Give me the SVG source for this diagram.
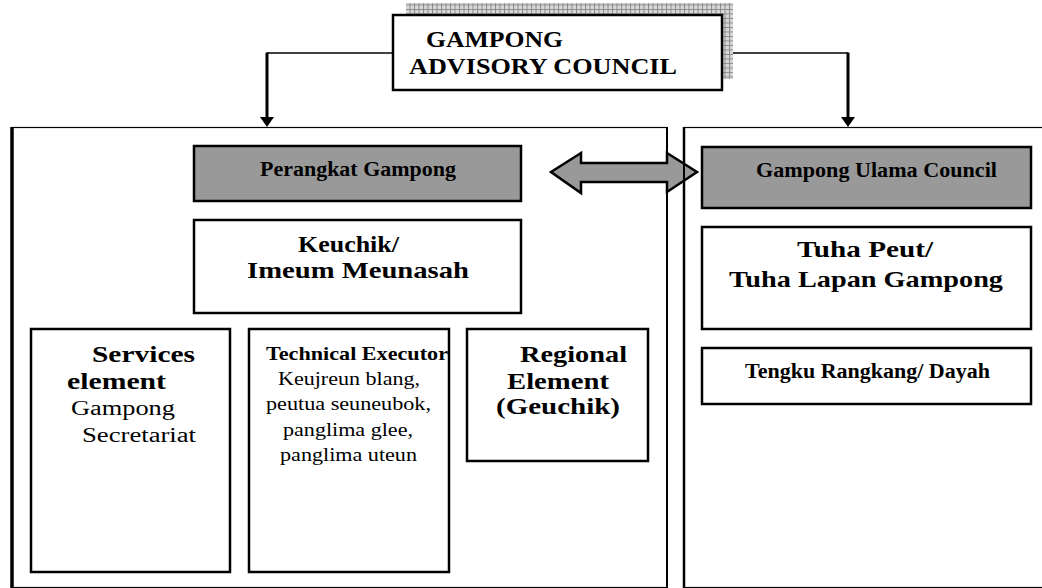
<svg xmlns="http://www.w3.org/2000/svg" width="1042" height="588" viewBox="0 0 1042 588">
  <defs>
    <!-- hatched drop shadow behind the council box -->
    <pattern id="grid" width="4.5" height="4.5" patternUnits="userSpaceOnUse">
      <rect width="4.5" height="4.5" fill="#d8d8d8"/>
      <path d="M0 0.5H4.5M0.5 0V4.5" stroke="#8a8a8a" stroke-width="1" fill="none"/>
    </pattern>
    <marker id="tri" markerWidth="12" markerHeight="10" refX="6" refY="9" orient="auto-start-reverse" markerUnits="userSpaceOnUse" viewBox="0 0 12 10">
      <path d="M0 0L12 0L6 10Z" fill="#000"/>
    </marker>
    <style>
      .box { fill: #fff; stroke: #000; stroke-width: 2.5; }
      .grey { fill: #999; stroke: #000; stroke-width: 2.5; }
      .frame { fill: none; stroke: #000; }
      .t { font-family: "Liberation Serif", "Times New Roman", serif; fill: #000; }
      .b { font-weight: bold; }
      .wire { fill: none; stroke: #000; stroke-width: 1.5; }
      .drop { fill: none; stroke: #000; stroke-width: 3; }
    </style>
  </defs>

  <rect width="1042" height="588" fill="#fff"/>

  <!-- outer panels -->
  <g id="panel-left">
    <rect class="frame" x="12" y="127.5" width="655" height="460" stroke-width="1.2"/>
    <line x1="12" y1="127" x2="12" y2="588" stroke="#000" stroke-width="3.5"/>
    <line x1="667" y1="127" x2="667" y2="588" stroke="#000" stroke-width="2"/>
  </g>
  <g id="panel-right">
    <rect class="frame" x="684" y="127.5" width="380" height="460" stroke-width="1.2"/>
    <line x1="684" y1="127" x2="684" y2="588" stroke="#000" stroke-width="2.5"/>
  </g>

  <!-- connectors -->
  <g id="connectors">
    <polyline class="wire" points="393,53 267,53"/>
    <line class="drop" x1="267" y1="52.5" x2="267" y2="118"/>
    <path d="M260 117L274 117L267 127Z" fill="#000"/>
    <polyline class="wire" points="722,53 848,53"/>
    <line class="drop" x1="848" y1="52.5" x2="848" y2="118"/>
    <path d="M841 117L855 117L848 127Z" fill="#000"/>
    <polygon points="551,172 581,153 581,163 667,163 667,153 697,172 667,192 667,182 581,182 581,193" fill="#999" stroke="#000" stroke-width="2.5" stroke-linejoin="miter"/>
    <line x1="684" y1="150" x2="684" y2="196" stroke="#000" stroke-width="2"/>
  </g>

  <g id="advisory-council">
    <rect x="406" y="3" width="327" height="76" fill="url(#grid)"/>
    <rect class="box" x="393" y="15" width="329" height="75" stroke-width="3"/>
    <text class="t b" x="426" y="47" font-size="24" textLength="137" lengthAdjust="spacingAndGlyphs">GAMPONG</text>
    <text class="t b" x="409" y="74" font-size="24" textLength="268" lengthAdjust="spacingAndGlyphs">ADVISORY COUNCIL</text>
  </g>

  <g id="perangkat-gampong">
    <rect class="grey" x="194" y="146" width="327" height="55"/>
    <text class="t b" x="260" y="176" font-size="20" textLength="196" lengthAdjust="spacingAndGlyphs">Perangkat Gampong</text>
  </g>

  <g id="keuchik">
    <rect class="box" x="194" y="220" width="327" height="93"/>
    <text class="t b" x="298" y="252" font-size="24" textLength="101" lengthAdjust="spacingAndGlyphs">Keuchik/</text>
    <text class="t b" x="247" y="278" font-size="24" textLength="222" lengthAdjust="spacingAndGlyphs">Imeum Meunasah</text>
  </g>

  <g id="services-element">
    <rect class="box" x="31" y="329" width="199" height="243"/>
    <text class="t b" x="92" y="362" font-size="23" textLength="103" lengthAdjust="spacingAndGlyphs">Services</text>
    <text class="t b" x="67" y="389" font-size="23" textLength="99" lengthAdjust="spacingAndGlyphs">element</text>
    <text class="t" x="71" y="415" font-size="20" textLength="104" lengthAdjust="spacingAndGlyphs">Gampong</text>
    <text class="t" x="82" y="442" font-size="20" textLength="114" lengthAdjust="spacingAndGlyphs">Secretariat</text>
  </g>

  <g id="technical-executor">
    <rect class="box" x="249" y="329" width="200" height="243"/>
    <text class="t b" x="266" y="360" font-size="19" textLength="182" lengthAdjust="spacingAndGlyphs">Technical Executor</text>
    <text class="t" x="278" y="385" font-size="19" textLength="142" lengthAdjust="spacingAndGlyphs">Keujreun blang,</text>
    <text class="t" x="266" y="410" font-size="19" textLength="165" lengthAdjust="spacingAndGlyphs">peutua seuneubok,</text>
    <text class="t" x="283" y="436" font-size="19" textLength="130" lengthAdjust="spacingAndGlyphs">panglima glee,</text>
    <text class="t" x="280" y="461" font-size="19" textLength="137" lengthAdjust="spacingAndGlyphs">panglima uteun</text>
  </g>

  <g id="regional-element">
    <rect class="box" x="467" y="329" width="181" height="132"/>
    <text class="t b" x="520" y="362" font-size="23" textLength="107" lengthAdjust="spacingAndGlyphs">Regional</text>
    <text class="t b" x="507" y="389" font-size="23" textLength="102" lengthAdjust="spacingAndGlyphs">Element</text>
    <text class="t b" x="496" y="414" font-size="23" textLength="124" lengthAdjust="spacingAndGlyphs">(Geuchik)</text>
  </g>

  <g id="ulama-council">
    <rect class="grey" x="702" y="147" width="329" height="61"/>
    <text class="t b" x="756" y="177" font-size="21" textLength="241" lengthAdjust="spacingAndGlyphs">Gampong Ulama Council</text>
  </g>

  <g id="tuha-peut">
    <rect class="box" x="702" y="227" width="329" height="102"/>
    <text class="t b" x="797" y="257" font-size="24" textLength="136" lengthAdjust="spacingAndGlyphs">Tuha Peut/</text>
    <text class="t b" x="729" y="287" font-size="24" textLength="274" lengthAdjust="spacingAndGlyphs">Tuha Lapan Gampong</text>
  </g>

  <g id="tengku-rangkang">
    <rect class="box" x="702" y="348" width="329" height="56"/>
    <text class="t b" x="745" y="378" font-size="20" textLength="245" lengthAdjust="spacingAndGlyphs">Tengku Rangkang/ Dayah</text>
  </g>
</svg>
